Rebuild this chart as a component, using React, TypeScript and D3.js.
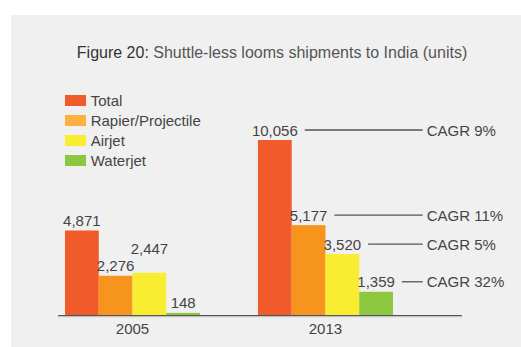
import React from "react";
import * as d3 from "d3";

const years = ["2005", "2013"];
const seriesNames = ["Total", "Rapier/Projectile", "Airjet", "Waterjet"];
const values2005 = [4871, 2276, 2447, 148];
const values2013 = [10056, 5177, 3520, 1359];
const cagrLabels = ["CAGR 9%", "CAGR 11%", "CAGR 5%", "CAGR 32%"];
const barColors = ["#F15A2B", "#F7941D", "#F9ED32", "#8DC63F"];
const legendColors = ["#F15A2B", "#FBB040", "#F9ED32", "#8DC63F"];
const titleBold = "Figure 20:";
const titleRest = " Shuttle-less looms shipments to India (units)";

const W = 521;
const H = 347;
const FONT = "'Liberation Sans', Arial, Helvetica, sans-serif";
const FS = 15;
const TEXT = "#444";

const fmt = d3.format(",");
const textWidth = (s: string) =>
  s.split("").reduce((a, c) => a + (c === "," ? 0.278 : 0.556), 0) * FS;

export default function App() {
  const baseline = 315.5;
  const y = d3.scaleLinear().domain([0, 10056]).range([baseline, 140]);
  const x0 = d3.scaleBand<string>().domain(years).range([65, 393]).paddingInner(0.3).paddingOuter(0);
  const x1 = d3.scaleBand<string>().domain(seriesNames).range([0, x0.bandwidth()]).padding(0);
  const data = [values2005, values2013];

  const groups = years.map((yr, gi) => {
    const placed: { l: number; r: number; b: number }[] = [];
    const items = seriesNames.map((s, i) => {
      const v = data[gi][i];
      const bx = (x0(yr) as number) + (x1(s) as number);
      const bw = x1.bandwidth();
      const cx = bx + bw / 2;
      const label = fmt(v);
      const tw = textWidth(label);
      let b = y(v) - 4.5;
      let moved = true;
      while (moved) {
        moved = false;
        for (const p of placed) {
          const xo = cx - tw / 2 < p.r && cx + tw / 2 > p.l;
          const yo = Math.abs(p.b - b) < 16;
          if (xo && yo) {
            b = p.b - 17;
            moved = true;
          }
        }
      }
      placed.push({ l: cx - tw / 2, r: cx + tw / 2, b });
      return { s, v, bx, bw, cx, label, tw, b, i };
    });
    return { yr, gi, items };
  });

  const lineEnd = 422.7;
  const cagrX = 426.7;

  return (
    <svg
      width={W}
      height={H}
      style={{ position: "absolute", left: 0, top: 0 }}
      fontFamily={FONT}
    >
      <rect x={11} y={15} width={W - 11} height={H - 15} fill="#F0F0F0" />
      <text x={272} y={58.3} textAnchor="middle" fontSize={16} fill="#555">
        <tspan fill="#333">{titleBold}</tspan>
        {titleRest}
      </text>
      {seriesNames.map((s, i) => (
        <g key={s}>
          <rect x={65} y={95 + 20 * i} width={21} height={11} fill={legendColors[i]} />
          <text x={90.7} y={106 + 20 * i} fontSize={FS} fill={TEXT}>
            {s}
          </text>
        </g>
      ))}
      {groups.map((g) => (
        <g key={g.yr}>
          {g.items.map((it) => (
            <rect
              key={it.s}
              x={it.bx}
              y={y(it.v)}
              width={it.bw}
              height={baseline - y(it.v)}
              fill={barColors[it.i]}
            />
          ))}
          {g.items.map((it) => (
            <text key={it.s + "l"} x={it.cx} y={it.b} textAnchor="middle" fontSize={FS} fill={TEXT}>
              {it.label}
            </text>
          ))}
          <text
            x={(x0(g.yr) as number) + x0.bandwidth() / 2}
            y={333.5}
            textAnchor="middle"
            fontSize={FS}
            fill={TEXT}
          >
            {g.yr}
          </text>
        </g>
      ))}
      {groups[1].items.map((it) => (
        <g key={it.s + "c"}>
          <line
            x1={it.cx + it.tw / 2 + 7}
            x2={lineEnd}
            y1={it.b - 5.5}
            y2={it.b - 5.5}
            stroke="#555"
            strokeWidth={1.3}
          />
          <text x={cagrX} y={it.b} fontSize={FS} fill={TEXT}>
            {cagrLabels[it.i]}
          </text>
        </g>
      ))}
      <line x1={58} x2={462} y1={baseline} y2={baseline} stroke="#555" strokeWidth={1.2} />
      <line x1={58} x2={462} y1={baseline + 1.2} y2={baseline + 1.2} stroke="#aaa" strokeWidth={0.8} />
    </svg>
  );
}
